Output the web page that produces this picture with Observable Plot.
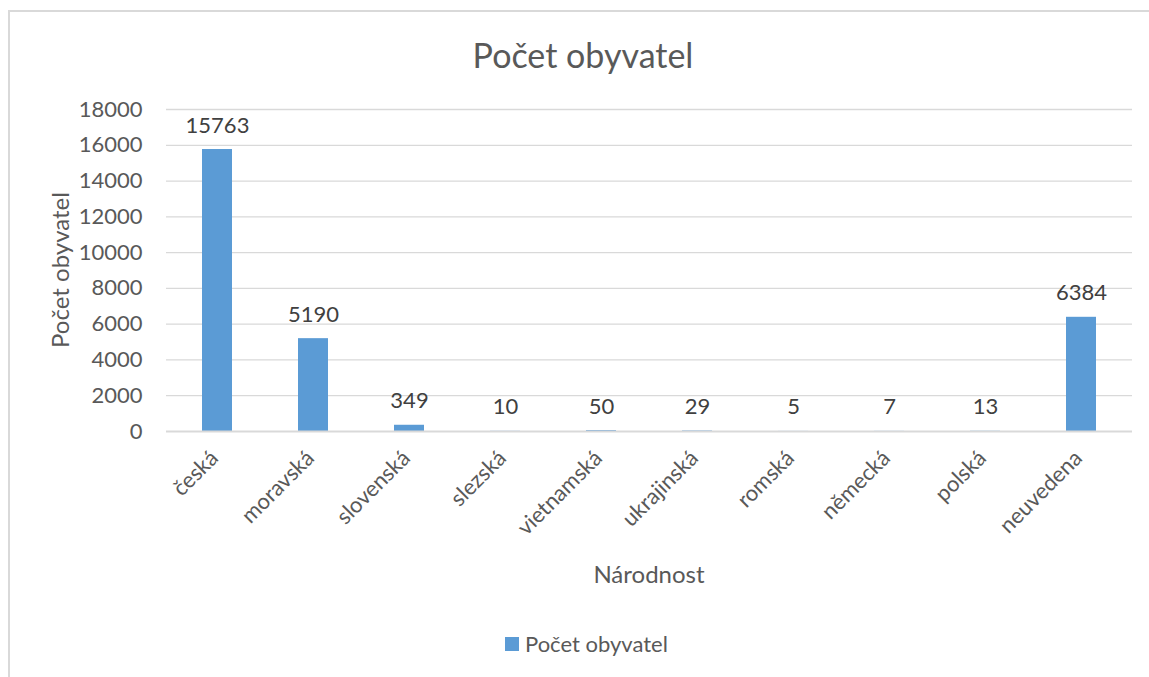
<!DOCTYPE html>
<html>
<head>
<meta charset="utf-8">
<script src="https://cdn.jsdelivr.net/npm/d3@7"></script>
<script src="https://cdn.jsdelivr.net/npm/@observablehq/plot@0.6"></script>
<style>
  html, body { margin: 0; padding: 0; background: #fff; }
  #wrap { position: relative; width: 1149px; height: 677px; overflow: hidden; font-family: Lato, "Open Sans", sans-serif; color: #595959; }
  #border { position: absolute; left: 8px; top: 10px; width: 1160px; height: 700px; border: 2px solid #d9d9d9; box-sizing: border-box; }
  #chart { position: absolute; left: 0; top: 0; }
  .lbl { position: absolute; white-space: nowrap; line-height: 1; }
  #title { font-size: 34px; left: 583px; top: 55px; transform: translate(-50%, -50%); }
  #xtitle { font-size: 24px; left: 649px; top: 574px; transform: translate(-50%, -50%); }
  #ytitle { font-size: 24px; left: 60px; top: 270px; transform: translate(-50%, -50%) rotate(-90deg); }
  #legend { left: 505px; top: 644px; transform: translateY(-50%); display: flex; align-items: center; font-size: 22px; }
  #legend .sw { width: 14px; height: 14px; background: #5b9bd5; margin-right: 6px; }
</style>
</head>
<body>
<div id="wrap">
  <div id="border"></div>
  <div id="chart"></div>
  <div class="lbl" id="title">Počet obyvatel</div>
  <div class="lbl" id="ytitle">Počet obyvatel</div>
  <div class="lbl" id="xtitle">Národnost</div>
  <div class="lbl" id="legend"><span class="sw"></span><span>Počet obyvatel</span></div>
</div>
<script>
const categories = ["česká", "moravská", "slovenská", "slezská", "vietnamská", "ukrajinská", "romská", "německá", "polská", "neuvedena"];
const values = [15763, 5190, 349, 10, 50, 29, 5, 7, 13, 6384];
const yTicks = [0, 2000, 4000, 6000, 8000, 10000, 12000, 14000, 16000, 18000];
const seriesName = "Počet obyvatel";

const data = categories.map((c, i) => ({cat: c, val: values[i]}));

const chart = Plot.plot({
  width: 1149,
  height: 677,
  marginLeft: 166,
  marginRight: 17,
  marginTop: 109,
  marginBottom: 246,
  style: {fontFamily: "Lato, 'Open Sans', sans-serif", background: "transparent"},
  x: {domain: categories, paddingInner: 0.69, paddingOuter: 0.345, axis: null},
  y: {domain: [0, 18000], axis: null},
  marks: [
    Plot.ruleY(yTicks.filter(t => t > 0), {stroke: "#d9d9d9", strokeWidth: 1.3}),
    Plot.barY(data, {x: "cat", y: "val", fill: "#5b9bd5"}),
    Plot.ruleY([0], {stroke: "#d9d9d9", strokeWidth: 2}),
    Plot.text(yTicks, {y: d => d, frameAnchor: "left", textAnchor: "end", dx: -24, text: d => String(d), fontSize: 22, fill: "#595959"}),
    Plot.text(data, {x: "cat", y: "val", text: d => String(d.val), dy: -24, fontSize: 22, fill: "#404040"}),
    Plot.text(categories, {x: d => d, frameAnchor: "bottom", rotate: -45, textAnchor: "end", dy: 28, dx: 2, text: d => d, fontSize: 22, fill: "#595959"})
  ]
});
document.getElementById("chart").appendChild(chart);
</script>
</body>
</html>
